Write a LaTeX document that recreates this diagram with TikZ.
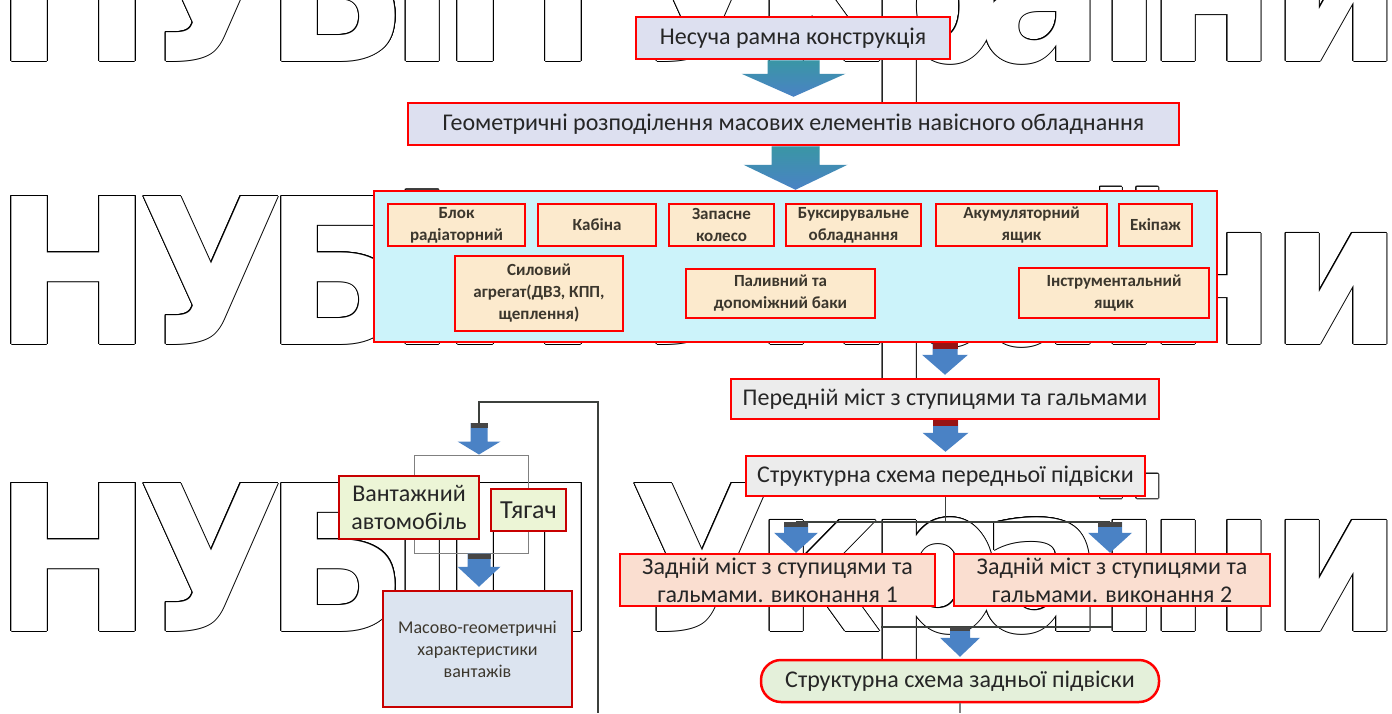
\documentclass[tikz,border=0pt]{standalone}
\usepackage{fontspec}
\usepackage{graphicx}
\setmainfont{Carlito}
\newfontfamily\wmfamily{DejaVu Sans}
\usetikzlibrary{calc}
\definecolor{bred}{RGB}{255,0,0}
\definecolor{dred}{RGB}{200,0,0}
\definecolor{txt}{RGB}{38,38,38}
\definecolor{txts}{RGB}{60,55,45}
\definecolor{lav}{RGB}{221,224,240}
\definecolor{cyanbg}{RGB}{204,243,250}
\definecolor{peach}{RGB}{252,234,205}
\definecolor{lgray}{RGB}{236,236,236}
\definecolor{salmon}{RGB}{250,222,208}
\definecolor{lgreen}{RGB}{228,240,218}
\definecolor{lyellow}{RGB}{236,245,214}
\definecolor{lblue}{RGB}{220,228,240}
\definecolor{arrblue}{RGB}{74,130,197}
\definecolor{arrteal}{RGB}{58,150,165}
\definecolor{capgray}{RGB}{70,70,70}
\definecolor{capred}{RGB}{150,20,20}
\definecolor{lineg}{RGB}{60,64,60}
\tikzset{
  x=1pt,y=-1pt,
  wm/.style={inner sep=0pt,outer sep=0pt,anchor=base west,font=\wmfamily\bfseries\fontsize{203}{203}\selectfont},
  box/.style={draw=bred,line width=2.5pt,inner sep=2pt,align=center,text=txt,font=\fontsize{24}{28}\selectfont},
  sbox/.style={box,fill=peach,text=txts,font=\bfseries\fontsize{17}{22}\selectfont},
  conn/.style={draw=lineg,line width=1.1pt},
  bigarr/.style={top color=arrteal,bottom color=arrblue},
  smallarr/.style={fill=arrblue},
}
\newcommand\wmrow[3]{%
  \foreach \gx/\gl [count=\k] in {-5.5/Н,138/У,264.5/Б,390/і,440.5/П,629/У,754/к,867/р,977/а,1097/ї,1146/н,1270/и}{%
    \node[wm,#3] (wm\k) at ($(\gx,#1)+#2$) {\scalebox{0.93}[1]{\gl}};%
  }%
}
\newcommand\blockarrow[8]{%
  \path[#6] let \p1=(#2), \p2=(#1) in
    (\x1-#3pt,\y2) -- (\x1+#3pt,\y2) -- (\x1+#3pt,\y1+#5pt) -- (\x1+#4pt,\y1+#5pt)
    -- (\x1,\y1) -- (\x1-#4pt,\y1+#5pt) -- (\x1-#3pt,\y1+#5pt) -- cycle;
  \fill[#8] let \p1=(#2), \p2=(#1) in (\x1-#3pt,\y2) rectangle (\x1+#3pt,\y2-#7pt);
}
\begin{document}
\begin{tikzpicture}
\useasboundingbox (0,0) rectangle (1392,713);
\fill[white] (0,0) rectangle (1392,713);
% watermark (outlined letters)
\begin{scope}
\clip (0,0) rectangle (1392,713);
\foreach \a in {0,30,...,330}{
  \foreach \by in {61,344,631}{
    \wmrow{\by}{({1.0*cos(\a)},{1.0*sin(\a)})}{text=black}
  }
}
\foreach \by in {61,344,631}{\wmrow{\by}{(0,0)}{text=white}}
\end{scope}

% coordinates
\coordinate (ga) at (479,402);
\coordinate (gb) at (598,402);
\coordinate (gend) at (598,713);
\coordinate (aAtop) at (479,423);
\coordinate (jl) at (796,522);
\coordinate (jr) at (1110,522);
\coordinate (kl) at (881,627);
\coordinate (kr) at (1112,627);
\coordinate (zend) at (960,713);

% group frame (left)
\node[draw=gray,line width=1pt,minimum width=114pt,minimum height=98pt,inner sep=0pt] (grp) at (471,504) {};

% main boxes
\node[box,fill=lav,minimum width=314pt,minimum height=42pt] (b1) at (793,38) {Несуча рамна конструкція};
\node[box,fill=lav,minimum width=771pt,minimum height=42pt] (b2) at (793.5,124) {Геометричні розподілення масових елементів навісного обладнання};
\node[draw=bred,line width=2.5pt,fill=cyanbg,minimum width=843pt,minimum height=151pt,inner sep=0pt] (cont) at (795.5,266.5) {};
\node[sbox,minimum width=137pt,minimum height=42pt] (i1) at (456.5,225) {Блок\\радіаторний};
\node[sbox,minimum width=118pt,minimum height=42pt] (i2) at (597,225) {Кабіна};
\node[sbox,minimum width=105pt,minimum height=42pt] (i3) at (721.5,225) {Запасне\\колесо};
\node[sbox,minimum width=135pt,minimum height=42pt] (i4) at (853.5,225) {Буксирувальне\\обладнання};
\node[sbox,minimum width=171pt,minimum height=42pt] (i5) at (1021.5,225) {Акумуляторний\\ящик};
\node[sbox,minimum width=73pt,minimum height=42pt] (i6) at (1155.5,225) {Екіпаж};
\node[sbox,minimum width=168pt,minimum height=75pt] (i7) at (539,293.5) {Силовий\\агрегат(ДВЗ, КПП,\\щеплення)};
\node[sbox,minimum width=189pt,minimum height=49pt] (i8) at (780.5,293.5) {Паливний та\\допоміжний баки};
\node[sbox,minimum width=190pt,minimum height=50pt] (i9) at (1114,293) {Інструментальний\\ящик};

\node[box,fill=lgray,minimum width=428pt,minimum height=40pt] (p1) at (945,399) {Передній міст з ступицями та гальмами};
\node[box,fill=lgray,minimum width=399pt,minimum height=40pt] (p2) at (945.5,476) {Структурна схема передньої підвіски};
\node[box,fill=salmon,minimum width=315pt,minimum height=52pt] (z1) at (777.5,580) {Задній міст з ступицями та\\гальмами. виконання 1};
\node[box,fill=salmon,minimum width=316pt,minimum height=52pt] (z2) at (1112,580) {Задній міст з ступицями та\\гальмами. виконання 2};
\node[box,fill=lgreen,rounded corners=20pt,minimum width=398pt,minimum height=42pt] (z3) at (960,681) {Структурна схема задньої підвіски};

\node[box,draw=dred,fill=lyellow,minimum width=140pt,minimum height=63pt] (v1) at (409,507.5) {Вантажний\\автомобіль};
\node[box,draw=dred,fill=lyellow,minimum width=75pt,minimum height=42pt,font=\fontsize{26}{28}\selectfont] (v2) at (528.5,510) {Тягач};
\node[box,draw=dred,fill=lblue,minimum width=189pt,minimum height=116pt,text=txts,font=\fontsize{18}{22}\selectfont] (m1) at (477.5,649) {Масово-геометричні\\характеристики\\вантажів};

% connectors
\draw[conn] (aAtop) -- (ga) -- (gb) -- (gend);
\draw[conn] (p2.south) -- (p2.south |- jl);
\draw[conn] (jl) -- (jr);
\draw[conn] (kl) -- (kr);
\draw[conn,draw=gray] (z3.south) -- (zend);

% block arrows
\blockarrow{b1.south}{$(b2.north)+(0,-5)$}{26}{52}{23}{bigarr}{0}{arrblue}
\blockarrow{b2.south}{cont.north}{24}{52}{25}{bigarr}{0}{arrblue}
\blockarrow{cont.south}{$(p1.north)+(0,-3)$}{12.5}{23}{20}{smallarr}{6}{capred}
\blockarrow{p1.south}{$(p2.north)+(0,-3)$}{12.5}{23}{19}{smallarr}{6}{capred}
\blockarrow{jl}{z1.north -| jl}{12}{22}{20}{smallarr}{5}{capgray}
\blockarrow{jr}{z2.north -| jr}{12}{22}{20}{smallarr}{5}{capgray}
\blockarrow{kl}{$(z3.north)+(0,-2)$}{10}{20}{19}{smallarr}{4}{capgray}
\blockarrow{aAtop}{grp.north -| aAtop}{8.5}{21.5}{13}{smallarr}{5}{capgray}
\blockarrow{grp.south}{$(m1.north -| aAtop)+(0,-3)$}{11.5}{21.5}{20}{smallarr}{5}{capgray}
\end{tikzpicture}
\end{document}
